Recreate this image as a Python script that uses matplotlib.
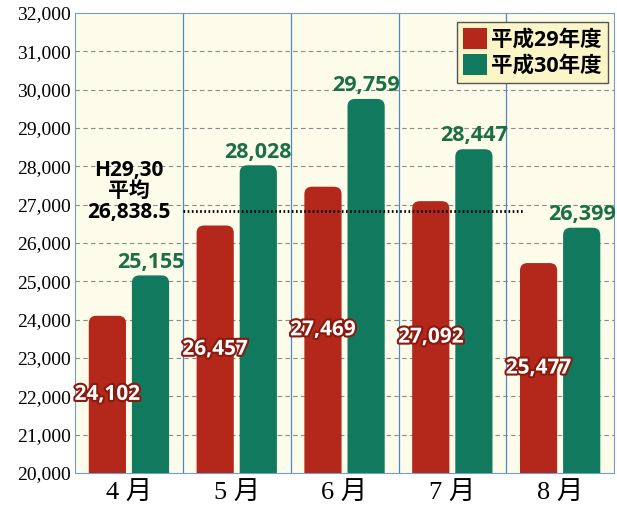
import matplotlib
matplotlib.use("Agg")
import matplotlib.pyplot as plt
import matplotlib.patheffects as pe
from matplotlib.patches import FancyBboxPatch, Patch
import numpy as np

months = ["4 月", "5 月", "6 月", "7 月", "8 月"]
h29 = [24102, 26457, 27469, 27092, 25477]
h30 = [25155, 28028, 29759, 28447, 26399]
legend_labels = ["平成29年度", "平成30年度"]
avg_value = 26838.5
avg_text = ["H29,30", "平均", "26,838.5"]
yticks = list(range(20000, 32001, 1000))

RED = "#b3281a"
GREEN = "#11795d"
BG = "#fdfcea"
SANS = ["Open Sans", "Noto Sans CJK JP", "DejaVu Sans"]
SERIF = ["Liberation Serif", "Noto Sans CJK JP"]

fig = plt.figure(figsize=(6.17, 5.17), dpi=100)
ax = fig.add_axes([0.1216, 0.0851, 0.8736, 0.8897])
ax.set_facecolor(BG)
ax.set_xlim(-0.5, 4.5)
ax.set_ylim(20000, 32000)

x = np.arange(len(months))
offset = 0.2
width = 0.345

# aspect for rounded corners (y data units per x data unit in pixels)
bbox = ax.get_window_extent()
aspect = (12000 / bbox.height) / (5 / bbox.width)

def rounded_bar(xc, val, color):
    base = 19000
    p = FancyBboxPatch((xc - width / 2, base), width, val - base,
                       boxstyle="round,pad=0,rounding_size=0.07",
                       mutation_aspect=aspect, facecolor=color,
                       edgecolor="none", zorder=3, clip_on=True)
    ax.add_patch(p)

for i in x:
    rounded_bar(i - offset, h29[i], RED)
    rounded_bar(i + offset, h30[i], GREEN)

# grid
for yv in yticks[1:-1]:
    ax.axhline(yv, color="#8a8a8a", lw=0.8, ls=(0, (4, 3)), zorder=1)
for b in np.arange(0.5, 4.5, 1):
    ax.axvline(b + 0.002, color="#4f86d0", lw=0.9, zorder=2)
for s in ax.spines.values():
    s.set_color("#6f9fd0")
    s.set_linewidth(0.8)

# red labels (white with red outline) at middle of visible bar
for i in x:
    ax.text(i - offset, 20000 + (h29[i] - 20000) / 2, f"{h29[i]:,}",
            ha="center", va="center", fontsize=15, fontweight="bold",
            color="white", family=SANS, zorder=5,
            path_effects=[pe.withStroke(linewidth=3, foreground="#8a1a10")])

# green labels above bars
for i in x:
    ax.annotate(f"{h30[i]:,}", (i + offset, h30[i]), xytext=(0, 2),
                textcoords="offset points", ha="center", va="bottom",
                fontsize=15.5, fontweight="bold", color="#1b6e45",
                family=SANS, zorder=5)

# average line
ax.plot([0.5, 3.66], [avg_value, avg_value], color="black", lw=2,
        ls=(0, (0.6, 0.9)), zorder=4)
ax.annotate("\n".join(avg_text), (0, avg_value), xytext=(0, -5),
            textcoords="offset points", ha="center", va="baseline",
            fontsize=15, fontweight="bold", color="black",
            family=SANS, linespacing=1.0, zorder=5)

ax.set_xticks(x)
ax.set_xticklabels(months, family=SERIF, fontsize=19)
ax.set_yticks(yticks)
ax.set_yticklabels([f"{v:,}" for v in yticks], family=SERIF, fontsize=14)
ax.tick_params(axis="both", length=0, pad=3)
ax.tick_params(axis="x", pad=6)

handles = [Patch(facecolor=RED, edgecolor="none"),
           Patch(facecolor=GREEN, edgecolor="none")]
leg = ax.legend(handles, legend_labels, loc="upper right",
                bbox_to_anchor=(0.997, 0.99), frameon=True, fancybox=False,
                prop={"family": SANS, "size": 15.5, "weight": "bold"},
                handlelength=1.1, handleheight=1.1, handletextpad=0.2,
                borderpad=0.3, labelspacing=0.15, borderaxespad=0.2)
leg.get_frame().set_facecolor("#fbf5c8")
leg.get_frame().set_edgecolor("#555555")
leg.get_frame().set_linewidth(1.0)
leg.get_frame().set_alpha(1)
leg.set_zorder(6)

fig.savefig("out.png", dpi=100)
